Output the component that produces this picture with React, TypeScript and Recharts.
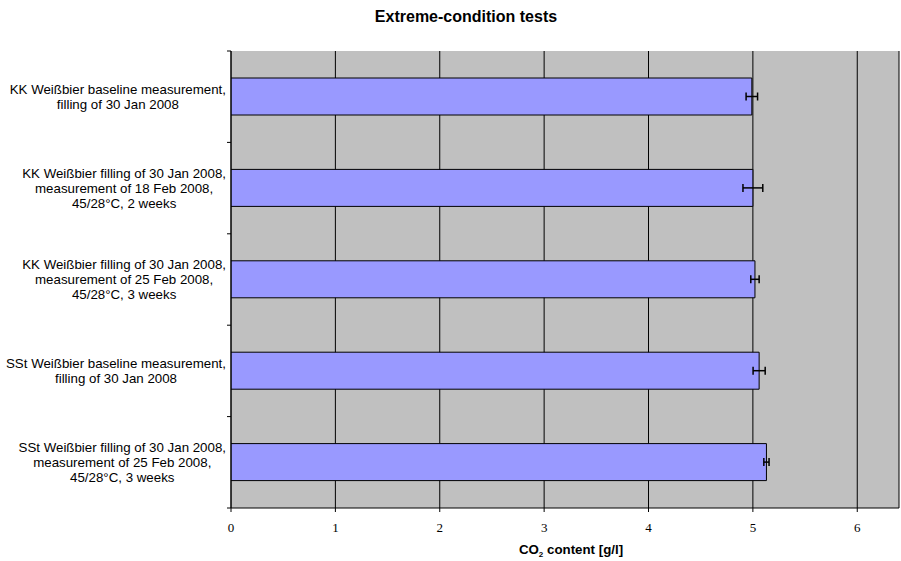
import React from 'react';
import { BarChart, Bar, XAxis, YAxis, CartesianGrid, ErrorBar, Label } from 'recharts';

const categories: string[] = [
  'KK Weißbier baseline measurement,\nfilling of 30 Jan 2008',
  'KK Weißbier filling of 30 Jan 2008,\nmeasurement of 18 Feb 2008,\n45/28°C, 2 weeks',
  'KK Weißbier filling of 30 Jan 2008,\nmeasurement of 25 Feb 2008,\n45/28°C, 3 weeks',
  'SSt Weißbier baseline measurement,\nfilling of 30 Jan 2008',
  'SSt Weißbier filling of 30 Jan 2008,\nmeasurement of 25 Feb 2008,\n45/28°C, 3 weeks',
];
const co2Values: number[] = [4.99, 5.0, 5.02, 5.06, 5.13];
const co2Errors: number[] = [0.055, 0.095, 0.04, 0.058, 0.025];
const xTicks: number[] = [0, 1, 2, 3, 4, 5, 6];

const data = categories.map((name, i) => ({ name, value: co2Values[i], err: co2Errors[i] }));

const W = 901;
const H = 561;
const XAXIS_H = 30;
const MARGIN = { top: 51, right: 2, bottom: 23, left: 0 };
const YAXIS_W = 231;
const PLOT_LEFT = MARGIN.left + YAXIS_W;
const PLOT_H = H - MARGIN.top - MARGIN.bottom - XAXIS_H;
const BAND = PLOT_H / categories.length;
const LABEL_FONT = '13.3px "Liberation Sans", Arial, sans-serif';

let ctx: CanvasRenderingContext2D | null = null;
const measure = (s: string): number => {
  if (!ctx) {
    const c = document.createElement('canvas');
    ctx = c.getContext('2d');
  }
  if (!ctx) return s.length * 6.5;
  ctx.font = LABEL_FONT;
  return ctx.measureText(s).width;
};

const YTick = (props: any) => {
  const { y, payload, index } = props;
  const lines: string[] = String(payload.value).split('\n');
  const widths = lines.map(measure);
  const maxW = Math.max(...widths);
  const right = PLOT_LEFT - 5;
  const cx = right - maxW / 2;
  const n = lines.length;
  return (
    <g>
      <line x1={PLOT_LEFT - 4} x2={PLOT_LEFT} y1={y - BAND / 2} y2={y - BAND / 2} stroke="#000" />
      {index === categories.length - 1 && (
        <line x1={PLOT_LEFT - 4} x2={PLOT_LEFT} y1={y + BAND / 2} y2={y + BAND / 2} stroke="#000" />
      )}
      <text textAnchor="middle" style={{ font: LABEL_FONT }} fill="#000">
        {lines.map((ln, i) => (
          <tspan key={i} x={cx} y={y + (i - (n - 1) / 2) * 15} dy="0.35em">
            {ln}
          </tspan>
        ))}
      </text>
    </g>
  );
};

const XTitle = () => (
  <text
    x={571}
    y={554}
    textAnchor="middle"
    fill="#000"
    style={{ font: 'bold 13.3px "Liberation Sans", Arial, sans-serif' }}
  >
    CO<tspan fontSize="8" dy="3">2</tspan>
    <tspan dy="-3"> content [g/l]</tspan>
  </text>
);

export default function App() {
  return (
    <div style={{ position: 'absolute', left: 0, top: 0, width: W, height: H, overflow: 'hidden' }}>
      <div
        style={{
          position: 'absolute',
          left: 266,
          top: 8,
          width: 400,
          textAlign: 'center',
          font: 'bold 16px "Liberation Sans", Arial, sans-serif',
          lineHeight: '18px',
          color: '#000',
        }}
      >
        Extreme-condition tests
      </div>
      <BarChart width={W} height={H} data={data} layout="vertical" margin={MARGIN}>
        <CartesianGrid horizontal={false} stroke="#000" fill="#c0c0c0" fillOpacity={1} />
        <XAxis
          type="number"
          domain={[0, 6.4]}
          ticks={xTicks}
          allowDataOverflow
          height={XAXIS_H}
          stroke="#000"
          tickSize={4}
          tickMargin={11}
          tick={{ fill: '#000', fontSize: 13, fontFamily: '"Liberation Serif", "Times New Roman", serif' }}
        >
          <Label content={<XTitle />} />
        </XAxis>
        <YAxis
          type="category"
          dataKey="name"
          width={YAXIS_W}
          stroke="#000"
          tickLine={false}
          tick={<YTick />}
          interval={0}
        />
        <Bar dataKey="value" fill="#9999ff" stroke="#000" strokeWidth={1} barSize={37} isAnimationActive={false}>
          <ErrorBar dataKey="err" direction="x" stroke="#000" strokeWidth={1.5} width={4} />
        </Bar>
      </BarChart>
    </div>
  );
}
